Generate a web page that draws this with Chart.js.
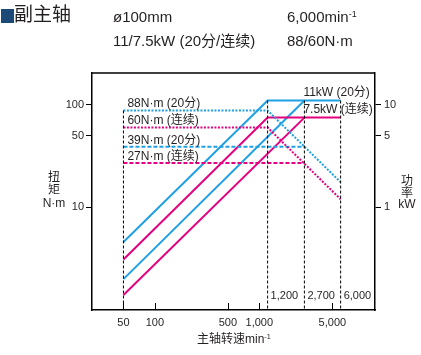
<!DOCTYPE html>
<html>
<head>
<meta charset="utf-8">
<script src="https://cdn.jsdelivr.net/npm/chart.js@4.4.1/dist/chart.umd.min.js"></script>
<style>
  html, body { margin:0; padding:0; background:#fff; }
  body { width:421px; height:355px; position:relative; overflow:hidden;
         font-family:"Liberation Sans","Noto Sans CJK SC",Arial,sans-serif; color:#231f20; }
  #c { position:absolute; left:0; top:0; }
  .t { position:absolute; white-space:nowrap; }
  sup { font-size:0.6em; vertical-align:0; position:relative; top:-0.55em; }
  #sq { position:absolute; left:1px; top:9px; width:13px; height:14px; background:#1b4a78; }
</style>
</head>
<body>
<canvas id="c" width="421" height="355"></canvas>
<div id="sq"></div>
<div class="t" style="left:14px;top:3px;font-size:19px;line-height:24px;">副主轴</div>
<div class="t" style="left:113px;top:8px;font-size:15px;line-height:18px;">ø100mm</div>
<div class="t" style="left:287px;top:8px;font-size:15px;line-height:18px;">6,000min<sup>-1</sup></div>
<div class="t" style="left:113px;top:32px;font-size:15px;line-height:18px;">11/7.5kW (20分/连续)</div>
<div class="t" style="left:287px;top:32px;font-size:15px;line-height:18px;">88/60N·m</div>
<div class="t" style="left:34px;top:171px;width:40px;text-align:center;font-size:12px;line-height:13px;">扭<br>矩<br>N·m</div>
<div class="t" style="left:387px;top:176px;width:40px;text-align:center;font-size:12px;line-height:11.5px;">功<br>率<br>kW</div>
<div class="t" style="left:197px;top:331px;font-size:12px;line-height:16px;">主轴转速min<sup>-1</sup></div>
<script>
// ---- data ----
const speeds20 = [50, 1200, 6000];          // min^-1
const power20 = [0.46, 11, 11];             // kW, 20 min rating (88 N·m)
const powerCont = [0.31, 7.5, 7.5];         // kW, continuous (60 N·m)
const speedsLow = [50, 2700];               // min^-1
const power20Low = [0.2, 11];               // kW (39 N·m)
const powerContLow = [0.14, 7.5];           // kW (27 N·m)
const torque20 = [88, 88, 17.6];            // N·m
const torqueCont = [60, 60, 12];            // N·m
const torque20Low = [39, 39];               // N·m
const torqueContLow = [27, 27];             // N·m
const markerSpeeds = [1200, 2700, 6000];
const markerLabels = ["1,200", "2,700", "6,000"];
const xTicks = [50, 100, 500, 1000, 5000];
const yLeftTicks = [10, 50, 100];
const yRightTicks = [1, 5, 10];
const torqueLabels = ["88N·m (20分)", "60N·m (连续)", "39N·m (20分)", "27N·m (连续)"];
const torqueLabelValues = [88, 60, 39, 27];
const powerLabels = ["11kW (20分)", "7.5kW (连续)"];
const powerLabelValues = [11, 7.5];

const BLUE = '#1ea0e3';
const PINK = '#e4007f';
const TXT = '#231f20';
const FONT = '"Liberation Sans","Noto Sans CJK SC",Arial,sans-serif';

const pts = (xs, ys) => xs.map((x, i) => ({x, y: ys[i]}));

const ds = [];
// vertical dashed black reference lines
ds.push({data: [{x: 50, y: 88}, {x: 50, y: 1}], yAxisID: 'yL', borderColor: '#000', borderWidth: 1, borderDash: [3, 2]});
markerSpeeds.forEach(s => ds.push({data: [{x: s, y: 11}, {x: s, y: 0.1}], yAxisID: 'yR', borderColor: '#000', borderWidth: 1, borderDash: [3, 2]}));
// torque (dotted / dashed)
ds.push({data: pts(speeds20, torque20), yAxisID: 'yL', borderColor: BLUE, borderWidth: 2, borderDash: [2, 1.5]});
ds.push({data: pts(speeds20, torqueCont), yAxisID: 'yL', borderColor: PINK, borderWidth: 2, borderDash: [2, 1.5]});
ds.push({data: pts(speedsLow, torque20Low), yAxisID: 'yL', borderColor: BLUE, borderWidth: 2, borderDash: [4, 2]});
ds.push({data: pts(speedsLow, torqueContLow), yAxisID: 'yL', borderColor: PINK, borderWidth: 2, borderDash: [4, 2]});
// power (solid)
ds.push({data: pts(speeds20, power20), yAxisID: 'yR', borderColor: BLUE, borderWidth: 2});
ds.push({data: pts(speeds20, powerCont), yAxisID: 'yR', borderColor: PINK, borderWidth: 2});
ds.push({data: pts(speedsLow, power20Low), yAxisID: 'yR', borderColor: BLUE, borderWidth: 2});
ds.push({data: pts(speedsLow, powerContLow), yAxisID: 'yR', borderColor: PINK, borderWidth: 2});
ds.forEach(d => { d.pointRadius = 0; d.tension = 0; d.fill = false; d.borderCapStyle = 'butt'; });

const setTicks = arr => scale => { scale.ticks = arr.map(v => ({value: v})); };

const overlay = {
  id: 'overlay',
  afterDraw(chart) {
    const {ctx, chartArea: a, scales} = chart;
    const x = scales.x, yL = scales.yL, yR = scales.yR;
    ctx.save();
    // top border
    ctx.strokeStyle = '#000'; ctx.lineWidth = 1.5;
    ctx.beginPath(); ctx.moveTo(a.left, a.top); ctx.lineTo(a.right, a.top); ctx.stroke();
    // inward x ticks
    ctx.lineWidth = 1;
    xTicks.forEach(v => {
      const px = Math.round(x.getPixelForValue(v)) + 0.5;
      ctx.beginPath(); ctx.moveTo(px, a.bottom); ctx.lineTo(px, a.bottom - 7); ctx.stroke();
    });
    ctx.fillStyle = TXT;
    ctx.font = '12px ' + FONT;
    ctx.textBaseline = 'middle'; ctx.textAlign = 'left';
    const x50 = x.getPixelForValue(50);
    torqueLabels.forEach((t, i) => ctx.fillText(t, x50 + 4, yL.getPixelForValue(torqueLabelValues[i]) - 6.5));
    const x2700 = x.getPixelForValue(2700);
    powerLabels.forEach((t, i) => ctx.fillText(t, x2700 - 1, yR.getPixelForValue(powerLabelValues[i]) - 7.5));
    ctx.font = '11px ' + FONT;
    markerSpeeds.forEach((s, i) => ctx.fillText(markerLabels[i], x.getPixelForValue(s) + 3, a.bottom - 14));
    ctx.restore();
  }
};

new Chart(document.getElementById('c'), {
  type: 'line',
  data: {datasets: ds},
  plugins: [overlay],
  options: {
    responsive: false,
    animation: false,
    devicePixelRatio: 1,
    layout: {padding: {top: 73, left: 0, right: 0, bottom: 0}},
    plugins: {legend: {display: false}, tooltip: {enabled: false}},
    scales: {
      x: {
        type: 'logarithmic', min: 25, max: 12800,
        afterBuildTicks: setTicks(xTicks),
        afterFit: s => { s.height = 45; },
        grid: {display: false, drawTicks: false},
        border: {display: true, color: '#000', width: 1.5},
        ticks: {padding: 6, color: TXT, font: {family: FONT, size: 11}, maxRotation: 0, autoSkip: false,
                callback: v => Number(v).toLocaleString('en-US')}
      },
      yL: {
        type: 'logarithmic', position: 'left', min: 1, max: 204,
        afterBuildTicks: setTicks(yLeftTicks),
        afterFit: s => { s.width = 92; },
        grid: {display: true, drawOnChartArea: false, drawTicks: true, tickLength: 6, color: '#000'},
        border: {display: true, color: '#000', width: 1.5},
        ticks: {padding: 2, color: TXT, font: {family: FONT, size: 11}, autoSkip: false, callback: v => String(v)}
      },
      yR: {
        type: 'logarithmic', position: 'right', min: 0.1, max: 20.4,
        afterBuildTicks: setTicks(yRightTicks),
        afterFit: s => { s.width = 46; },
        grid: {display: true, drawOnChartArea: false, drawTicks: true, tickLength: 6, color: '#000'},
        border: {display: true, color: '#000', width: 1.5},
        ticks: {padding: 3, color: TXT, font: {family: FONT, size: 11}, autoSkip: false, callback: v => String(v)}
      }
    }
  }
});
</script>
</body>
</html>
